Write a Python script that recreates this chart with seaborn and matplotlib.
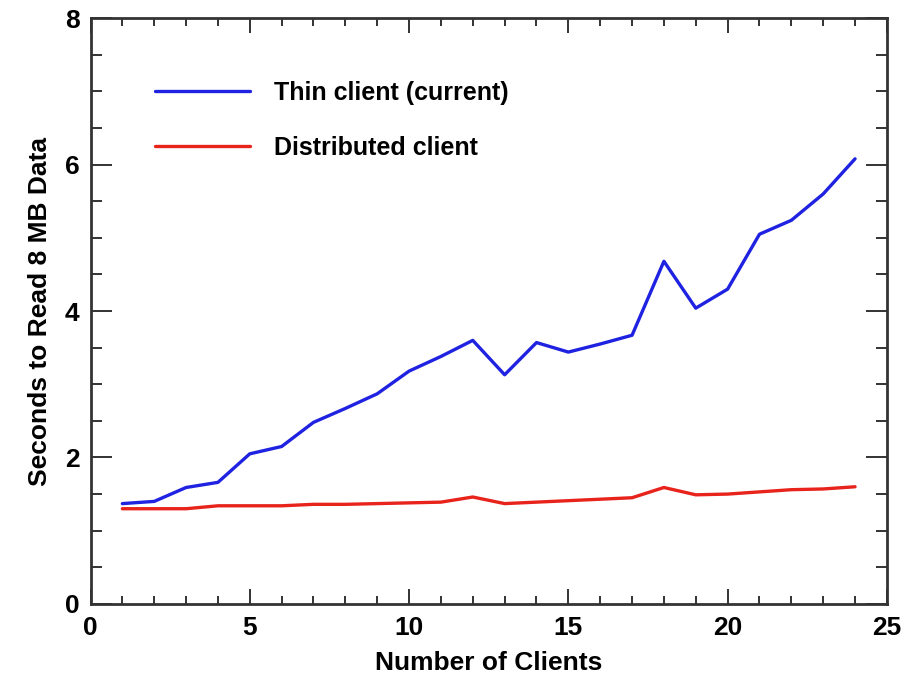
import matplotlib
matplotlib.use("Agg")
import matplotlib.pyplot as plt
from matplotlib.ticker import MultipleLocator
import numpy as np
import pandas as pd
import seaborn as sns

clients = list(range(1, 25))
thin_client = [1.37, 1.40, 1.59, 1.66, 2.05, 2.15, 2.48, 2.67, 2.87, 3.18, 3.38, 3.60,
               3.13, 3.57, 3.44, 3.55, 3.67, 4.68, 4.04, 4.30, 5.05, 5.24, 5.60, 6.08]
distributed_client = [1.30, 1.30, 1.30, 1.34, 1.34, 1.34, 1.36, 1.36, 1.37, 1.38, 1.39, 1.46,
                      1.37, 1.39, 1.41, 1.43, 1.45, 1.59, 1.49, 1.50, 1.53, 1.56, 1.57, 1.60]
series_names = ["Thin client (current)", "Distributed client"]
series_colors = ["#1f22e0", "#e8231c"]

df = pd.DataFrame({
    "clients": clients * 2,
    "seconds": thin_client + distributed_client,
    "series": [series_names[0]] * len(clients) + [series_names[1]] * len(clients),
})

sns.set_theme(style="ticks")
plt.rcParams["font.family"] = ["Liberation Sans", "DejaVu Sans"]
plt.rcParams["font.weight"] = "bold"
plt.rcParams["text.color"] = "black"
plt.rcParams["axes.labelcolor"] = "black"
plt.rcParams["xtick.labelcolor"] = "black"
plt.rcParams["ytick.labelcolor"] = "black"

fig = plt.figure(figsize=(9.05, 6.77), dpi=100)
ax = fig.add_axes([0.1, 0.108, 0.88, 0.865])

sns.lineplot(data=df, x="clients", y="seconds", hue="series",
             palette=dict(zip(series_names, series_colors)),
             linewidth=2.4, ax=ax)

ax.set_xlim(0, 25)
ax.set_ylim(0, 8)
ax.xaxis.set_major_locator(MultipleLocator(5))
ax.xaxis.set_minor_locator(MultipleLocator(1))
ax.yaxis.set_major_locator(MultipleLocator(2))
ax.yaxis.set_minor_locator(MultipleLocator(0.5))
ax.tick_params(which="both", direction="in", top=True, right=True,
               color="#333333", width=1.4)
ax.tick_params(axis="x", which="major", length=11, labelsize=19, pad=9)
ax.tick_params(axis="x", which="minor", length=6)
ax.tick_params(axis="y", which="major", length=15, labelsize=19, pad=8)
ax.tick_params(axis="y", which="minor", length=8)
for lab in ax.get_xticklabels() + ax.get_yticklabels():
    lab.set_fontweight("bold")
for s in ax.spines.values():
    s.set_color("#333333")
    s.set_linewidth(2.0)

ax.set_xlabel("Number of Clients", fontsize=19, fontweight="bold", labelpad=8)
ax.set_ylabel("Seconds to Read 8 MB Data", fontsize=19, fontweight="bold", labelpad=9)

ax.legend(loc="upper left", bbox_to_anchor=(0.081, 0.893), frameon=False,
          handlelength=3.8, handletextpad=0.95, labelspacing=1.25,
          borderpad=0, borderaxespad=0,
          prop={"size": 18, "weight": "bold"})

fig.savefig("out.png", dpi=100, facecolor="white")
